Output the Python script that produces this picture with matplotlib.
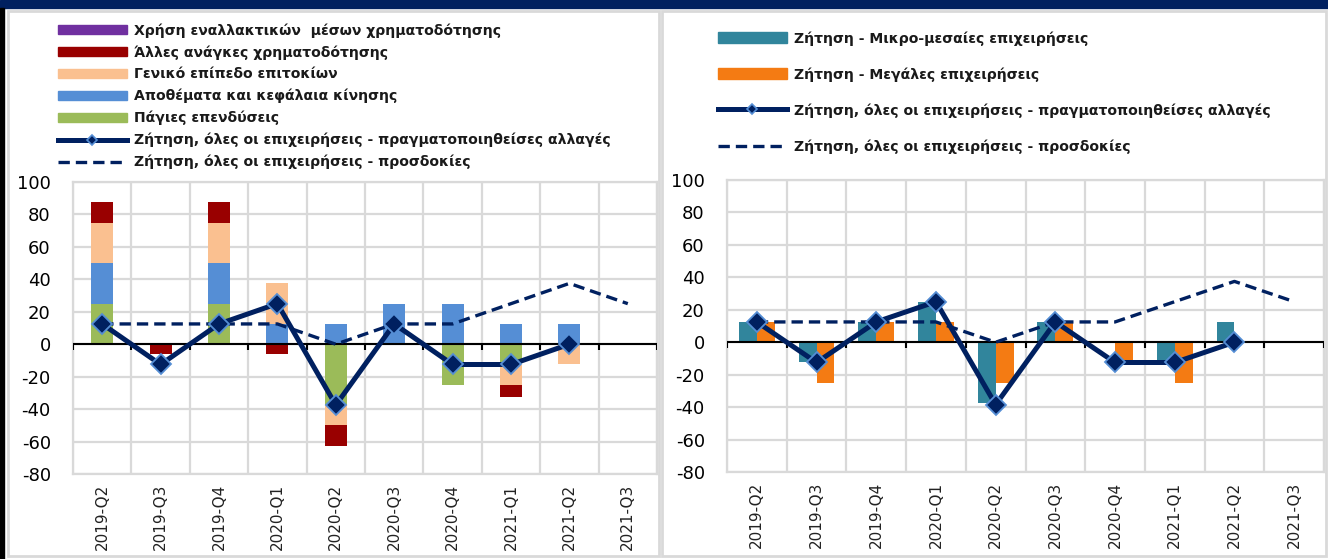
import numpy as np
import matplotlib
matplotlib.use("Agg")
import matplotlib.pyplot as plt
from matplotlib.patches import Patch, Rectangle
from matplotlib.lines import Line2D

# -----------------------
# DATOS
# -----------------------
quarters = ["2019-Q2", "2019-Q3", "2019-Q4", "2020-Q1", "2020-Q2",
            "2020-Q3", "2020-Q4", "2021-Q1", "2021-Q2", "2021-Q3"]

# left chart: factors (stacked)
alt_finance = [0, 0, 0, 0, 0, 0, 0, 0, 0, 0]
other_needs = [12.5, -6.25, 12.5, -6.25, -12.5, 0, 0, -7.5, 0, 0]
interest = [25, 0, 25, 25, -12.5, 0, 0, -12.5, -12.5, 0]
inventories = [25, 0, 25, 12.5, 12.5, 25, 25, 12.5, 12.5, 0]
fixed_inv = [25, 0, 25, 0, -37.5, 0, -25, -12.5, 0, 0]

# right chart: by firm size
sme = [12.5, -12.5, 12.5, 25, -37.5, 12.5, 0, -12.5, 12.5, np.nan]
large = [12.5, -25, 12.5, 12.5, -25, 12.5, -12.5, -25, 0, np.nan]

# lines
realized_left = [12.5, -12.5, 12.5, 25, -37.5, 12.5, -12.5, -12.5, 0, np.nan]
realized_right = [12.5, -12.5, 12.5, 25, -38.5, 12.5, -12.5, -12.5, 0, np.nan]
expected = [12.5, 12.5, 12.5, 12.5, 0, 12.5, 12.5, 25, 37.5, 25]

labels_left = ["Χρήση εναλλακτικών  μέσων χρηματοδότησης",
               "Άλλες ανάγκες χρηματοδότησης",
               "Γενικό επίπεδο επιτοκίων",
               "Αποθέματα και κεφάλαια κίνησης",
               "Πάγιες επενδύσεις",
               "Ζήτηση, όλες οι επιχειρήσεις - πραγματοποιηθείσες αλλαγές",
               "Ζήτηση, όλες οι επιχειρήσεις - προσδοκίες"]
labels_right = ["Ζήτηση - Μικρο-μεσαίες επιχειρήσεις",
                "Ζήτηση - Μεγάλες επιχειρήσεις",
                "Ζήτηση, όλες οι επιχειρήσεις - πραγματοποιηθείσες αλλαγές",
                "Ζήτηση, όλες οι επιχειρήσεις - προσδοκίες"]

# -----------------------
# ESTILO
# -----------------------
PURPLE = "#7030A0"
DARKRED = "#990000"
PEACH = "#FAC090"
BLUE = "#558ED5"
GREEN = "#9BBB59"
TEAL = "#31859C"
ORANGE = "#F47B13"
NAVY = "#002060"
GRID = "#D9D9D9"
DASH = (0, (3.4, 1.8))

plt.rcParams["font.family"] = ["DejaVu Sans"]
plt.rcParams["axes.unicode_minus"] = False

fig = plt.figure(figsize=(13.28, 5.59), dpi=100)
W, H = 1328, 559

# background decorations (top band, left border, panel frames)
fig.patches.append(Rectangle((0, 1 - 8 / H), 1, 8 / H, transform=fig.transFigure,
                             color=NAVY, zorder=-10))
fig.patches.append(Rectangle((0, 0), 4 / W, 1 - 8 / H, transform=fig.transFigure,
                             color="black", zorder=-10))
for x0, x1 in [(8, 659), (662, 1326)]:
    fig.patches.append(Rectangle((x0 / W, 3 / H), (x1 - x0) / W, 1 - 14 / H,
                                 transform=fig.transFigure, facecolor="white",
                                 edgecolor=GRID, lw=2, zorder=-10))

ax1 = fig.add_axes([73 / W, 1 - 474 / H, 584 / W, 292 / H])
ax2 = fig.add_axes([727 / W, 1 - 472 / H, 597 / W, 292 / H])

x = np.arange(len(quarters))


def stack(ax, series, colors, width):
    pos_base = np.zeros(len(x))
    neg_base = np.zeros(len(x))
    for vals, col in zip(series, colors):
        v = np.array(vals, dtype=float)
        base = np.where(v >= 0, pos_base, neg_base)
        ax.bar(x, v, width, bottom=base, color=col, zorder=2)
        pos_base = pos_base + np.where(v > 0, v, 0)
        neg_base = neg_base + np.where(v < 0, v, 0)


def style_axes(ax):
    ax.set_xlim(-0.5, len(quarters) - 0.5)
    ax.set_ylim(-80, 100)
    ax.set_yticks(np.arange(-80, 101, 20))
    ax.set_xticks(x)
    ax.set_xticklabels(quarters, rotation=90, fontsize=11, color="#222222")
    ax.set_xticks(np.arange(-0.5, len(quarters), 1), minor=True)
    ax.grid(True, which="major", axis="y", color=GRID, lw=1.6, zorder=0)
    ax.grid(True, which="minor", axis="x", color=GRID, lw=1.6, zorder=0)
    ax.set_axisbelow(True)
    ax.tick_params(axis="x", which="both", length=0, pad=7)
    ax.tick_params(axis="y", length=0, pad=16, labelsize=13)
    for s in ax.spines.values():
        s.set_color(GRID)
        s.set_linewidth(1.6)
    # zero line with small category ticks
    ax.axhline(0, color="black", lw=1.5, zorder=3)
    ax.vlines(np.arange(-0.5, len(quarters), 1), -3.5, 0, color="black", lw=1.5, zorder=3)


def lines(ax, realized):
    ax.plot(x, expected, color=NAVY, lw=2.4, ls=DASH, zorder=4)
    ax.plot(x, realized, color=NAVY, lw=3.6, marker="D", ms=10.5,
            markerfacecolor=NAVY, markeredgecolor=BLUE, markeredgewidth=1.3, zorder=5)


# left chart
stack(ax1, [fixed_inv, inventories, interest, other_needs, alt_finance],
      [GREEN, BLUE, PEACH, DARKRED, PURPLE], 0.38)
lines(ax1, realized_left)
style_axes(ax1)

# right chart
ax2.bar(x - 0.15, sme, 0.3, color=TEAL, zorder=2)
ax2.bar(x + 0.15, large, 0.3, color=ORANGE, zorder=2)
lines(ax2, realized_right)
style_axes(ax2)

# legends
solid_h = Line2D([], [], color=NAVY, lw=3.6, marker="D", ms=5,
                 markerfacecolor=NAVY, markeredgecolor=BLUE, markeredgewidth=1.2)
dash_h = Line2D([], [], color=NAVY, lw=2.4, ls=DASH)

h_left = [Patch(color=c) for c in [PURPLE, DARKRED, PEACH, BLUE, GREEN]] + [solid_h, dash_h]
leg1 = ax1.legend(h_left, labels_left, loc="upper left",
                  bbox_to_anchor=(58 / W, 1 - 23 / H), bbox_transform=fig.transFigure,
                  frameon=False, handlelength=4.9, handleheight=0.65,
                  handletextpad=0.55, labelspacing=0.54, borderaxespad=0, borderpad=0,
                  prop={"size": 10.1, "weight": "bold"})
for t in leg1.get_texts():
    t.set_color("#1a1a1a")

h_right = [Patch(color=TEAL), Patch(color=ORANGE), solid_h, dash_h]
leg2 = ax2.legend(h_right, labels_right, loc="upper left",
                  bbox_to_anchor=(718 / W, 1 - 31 / H), bbox_transform=fig.transFigure,
                  frameon=False, handlelength=4.9, handleheight=0.85,
                  handletextpad=0.55, labelspacing=1.54, borderaxespad=0, borderpad=0,
                  prop={"size": 10.1, "weight": "bold"})
for t in leg2.get_texts():
    t.set_color("#1a1a1a")

plt.savefig("out.png", dpi=100)
